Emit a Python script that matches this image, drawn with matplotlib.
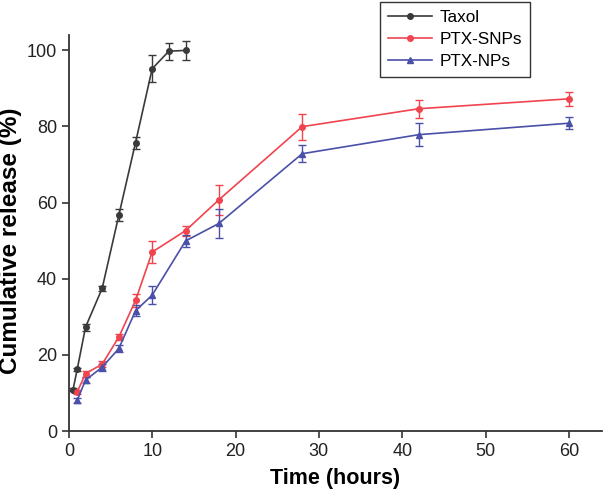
import numpy as np
import matplotlib.pyplot as plt

plt.rcParams['font.family'] = ['Liberation Sans', 'DejaVu Sans']

# Time points (hours)
taxol_t = [0.5, 1, 2, 4, 6, 8, 10, 12, 14]
taxol_y = [10.9, 16.2, 27.3, 37.5, 56.7, 75.7, 95.1, 99.7, 99.9]
taxol_err = [0.4, 0.5, 0.9, 0.7, 1.5, 1.6, 3.5, 2.2, 2.5]

snp_t = [1, 2, 4, 6, 8, 10, 14, 18, 28, 42, 60]
snp_y = [10.3, 15.1, 17.6, 24.7, 34.3, 47.0, 52.6, 60.7, 79.9, 84.6, 87.2]
snp_err = [0.6, 0.8, 0.8, 0.8, 1.6, 2.8, 1.3, 3.9, 3.4, 2.3, 1.9]

np_t = [1, 2, 4, 6, 8, 10, 14, 18, 28, 42, 60]
np_y = [8.1, 13.4, 16.8, 21.7, 31.6, 35.7, 49.9, 54.5, 72.8, 77.8, 80.8]
np_err = [0.7, 0.8, 0.9, 0.8, 1.5, 2.4, 1.5, 3.7, 2.3, 3.0, 1.6]

fig = plt.figure(figsize=(6.04, 4.9), dpi=100)
ax = fig.add_axes([0.114, 0.12, 0.883, 0.809])

ax.errorbar(taxol_t, taxol_y, yerr=taxol_err, color='#3a3a3a', marker='o',
            markersize=4, lw=1.2, capsize=3, elinewidth=1, capthick=1,
            label='Taxol')
ax.errorbar(snp_t, snp_y, yerr=snp_err, color='#f0444f', marker='o',
            markersize=4, lw=1.2, capsize=3, elinewidth=1, capthick=1,
            label='PTX-SNPs')
ax.errorbar(np_t, np_y, yerr=np_err, color='#4a4fa8', marker='^',
            markersize=4, lw=1.2, capsize=3, elinewidth=1, capthick=1,
            label='PTX-NPs')

ax.set_xlim(0, 64)
ax.set_ylim(0, 104)
ax.set_xticks([0, 10, 20, 30, 40, 50, 60])
ax.set_yticks([0, 20, 40, 60, 80, 100])
ax.spines['top'].set_visible(False)
ax.spines['right'].set_visible(False)
for s in ['left', 'bottom']:
    ax.spines[s].set_linewidth(1.3)
    ax.spines[s].set_color('#333333')
ax.tick_params(direction='out', length=5, width=1.2, labelsize=13,
               color='#333333', labelcolor='#222222')

ax.set_xlabel('Time (hours)', fontsize=15.5, fontweight='bold', labelpad=6)
fig.text(0.017, 0.508, 'Cumulative release (%)', rotation=90,
         fontsize=17.5, fontweight='bold', ha='center', va='center')

handles, labels = ax.get_legend_handles_labels()
handles = [h[0] for h in handles]
leg = fig.legend(handles, labels, loc='upper left',
                 bbox_to_anchor=(0.629, 0.996), fontsize=12.3, frameon=True,
                 fancybox=False, edgecolor='black', handlelength=2.6,
                 borderpad=0.45, labelspacing=0.42, handletextpad=0.45,
                 borderaxespad=0)
leg.get_frame().set_linewidth(1.0)

fig.savefig('out.png', dpi=100)
